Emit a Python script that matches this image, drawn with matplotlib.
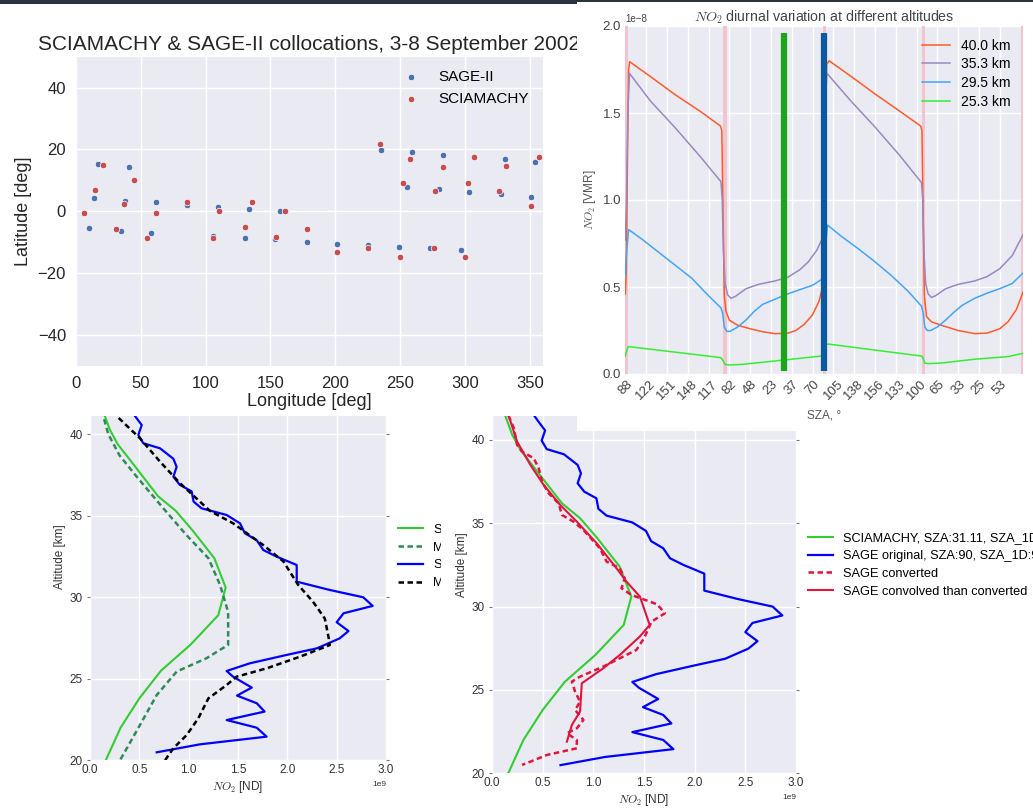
import matplotlib
matplotlib.use('Agg')
import matplotlib.pyplot as plt
from matplotlib.patches import Rectangle

W, H = 1033, 808
plt.rcParams['font.family'] = ['Liberation Sans', 'DejaVu Sans']
plt.rcParams['mathtext.fontset'] = 'cm'
plt.rcParams['axes.unicode_minus'] = True

# ---------------- data: collocations map ----------------
sage_lon = [10.5, 13.9, 17.1, 35.0, 38.1, 41.3, 58.3, 61.5, 85.9, 105.9, 109.3, 130.1, 133.5, 153.7, 157.1, 177.9,
            201.2, 225.4, 235.3, 248.7, 255.3, 258.7, 272.6, 279.5, 282.9, 296.5, 303.1, 306.5, 327.3, 330.7, 350.6, 354.0]
sage_lat = [-5.5, 4.2, 15.3, -6.2, 3.5, 14.3, -6.9, 2.9, 1.9, -8.1, 1.3, -8.5, 0.6, -9.1, 0.0, -9.8,
            -10.4, -10.8, 19.9, -11.4, 7.8, 19.2, -12.0, 7.2, 18.3, -12.4, 6.2, 17.6, 5.5, 16.9, 4.8, 15.9]
scia_lon = [6.5, 14.8, 21.3, 31.0, 37.3, 44.7, 55.2, 61.5, 85.9, 105.9, 110.1, 130.1, 135.7, 154.5, 161.1, 177.9,
            201.2, 225.4, 234.5, 249.6, 252.1, 257.8, 276.0, 276.6, 282.9, 299.9, 302.5, 306.5, 326.4, 331.5, 350.6, 357.1]
scia_lat = [-0.6, 6.8, 14.9, -5.6, 2.3, 10.1, -8.5, -0.6, 2.9, -8.5, 0.0, -5.2, 2.9, -8.2, 0.0, -5.8,
            -13.0, -12.0, 21.8, -14.6, 9.1, 16.9, -12.0, 6.5, 14.3, -14.6, 9.1, 17.6, 6.5, 14.6, 1.6, 17.6]

# ---------------- data: diurnal variation (time in hours, NO2 in 1e-8 VMR) ----------------
t_40 = [0, 0.12, 0.25, 0.4, 0.52, 3, 6, 9, 11.44, 11.6, 11.75, 11.9, 12.1, 12.5, 13.5, 15, 16.5, 18, 19.5, 20.5,
        21.5, 22.5, 23.3, 23.7, 23.9, 24.05, 24.2, 24.5, 27, 30, 33, 35.5, 35.65, 35.8, 35.95, 36.2, 36.8, 38, 40,
        42, 43.5, 45, 46, 47, 47.8]
v_40 = [0.46, 0.6, 1.2, 1.75, 1.795, 1.71, 1.605, 1.51, 1.425, 1.40, 0.9, 0.45, 0.36, 0.31, 0.28, 0.26, 0.243, 0.232,
        0.234, 0.25, 0.285, 0.34, 0.42, 0.50, 0.8, 1.4, 1.78, 1.80, 1.715, 1.61, 1.51, 1.425, 1.40, 0.9, 0.45, 0.33,
        0.30, 0.28, 0.25, 0.232, 0.235, 0.26, 0.30, 0.37, 0.47]
t_35 = [0, 0.15, 0.3, 0.5, 3, 6, 9, 11.5, 11.65, 11.8, 12.0, 12.3, 12.7, 13.2, 14.5, 16, 18, 19.5, 21, 22, 23,
        23.6, 23.85, 24.0, 24.2, 27, 30, 33, 35.6, 35.75, 35.9, 36.1, 36.4, 36.8, 37.3, 38.5, 40, 42, 43.5, 45,
        46.5, 47.8]
v_35 = [0.77, 1.0, 1.5, 1.728, 1.57, 1.415, 1.25, 1.105, 1.0, 0.7, 0.52, 0.455, 0.435, 0.445, 0.49, 0.515, 0.535,
        0.555, 0.60, 0.645, 0.71, 0.77, 0.9, 1.4, 1.73, 1.575, 1.42, 1.255, 1.10, 1.0, 0.7, 0.52, 0.46, 0.44, 0.45,
        0.49, 0.515, 0.535, 0.56, 0.605, 0.68, 0.80]
t_29 = [0, 0.15, 0.4, 2, 4, 6, 8, 10, 11.5, 11.7, 11.9, 12.2, 12.6, 13.5, 14.5, 15.5, 16.5, 18, 19.5, 21, 22.5,
        23.5, 23.8, 24.0, 24.3, 26, 28, 30, 32, 34, 35.6, 35.8, 36.0, 36.3, 36.7, 37.5, 38.5, 39.5, 40.5, 42, 43.5,
        45, 46.5, 47.8]
v_29 = [0.56, 0.7, 0.83, 0.775, 0.70, 0.625, 0.55, 0.45, 0.38, 0.35, 0.27, 0.245, 0.245, 0.27, 0.31, 0.36, 0.40,
        0.43, 0.46, 0.485, 0.51, 0.54, 0.56, 0.7, 0.856, 0.79, 0.72, 0.645, 0.565, 0.475, 0.39, 0.35, 0.27, 0.25,
        0.25, 0.27, 0.31, 0.355, 0.395, 0.435, 0.465, 0.49, 0.52, 0.58]
t_25 = [0, 0.3, 0.5, 11.5, 11.7, 12.0, 12.5, 14, 17, 20, 23.5, 23.8, 24.1, 24.4, 35.6, 35.8, 36.0, 36.5, 38, 42,
        46, 47.8]
v_25 = [0.103, 0.155, 0.157, 0.094, 0.08, 0.055, 0.052, 0.055, 0.07, 0.085, 0.103, 0.105, 0.17, 0.172, 0.103, 0.09,
        0.062, 0.06, 0.063, 0.085, 0.10, 0.119]
sunrise_sunset = [0.05, 11.95, 23.95, 35.85, 47.75]
sza_ticks = [0, 2.5, 5, 7.5, 10, 12.5, 15, 17.5, 20, 22.5, 25, 27.5, 30, 32.5, 35, 37.5, 40, 42.5, 45]
sza_labels = ['88', '122', '151', '148', '117', '82', '48', '23', '37', '70', '105', '138', '156', '133', '100',
              '65', '33', '25', '53']
scia_time = 19.12
sage_time = 23.92

# ---------------- data: profiles (NO2 in 1e9 ND, altitude in km) ----------------
scia_alt = [42.0, 41.4, 40.3, 39.4, 38.0, 36.2, 35.3, 34.1, 32.4, 30.6, 28.9, 27.1, 25.5, 23.8, 22.0, 20.0]
scia_nd = [0.10, 0.134, 0.20, 0.28, 0.46, 0.69, 0.87, 1.04, 1.26, 1.375, 1.30, 1.02, 0.72, 0.50, 0.31, 0.16]
scia_mod_alt = [42.0, 41.1, 40.0, 38.7, 37.4, 35.46, 33.8, 32.4, 30.76, 29.1, 27.08, 26.26, 25.44, 24.0, 22.17, 20.0]
scia_mod_nd = [0.10, 0.135, 0.186, 0.30, 0.473, 0.743, 0.98, 1.2, 1.318, 1.40, 1.40, 1.18, 0.878, 0.676, 0.507, 0.304]
sage_alt = [41.6, 41.12, 40.57, 39.96, 39.45, 39.14, 38.5, 38.0, 37.4, 36.9, 36.5, 35.87, 35.46, 35.05, 34.54,
            33.93, 33.5, 32.9, 32.5, 31.98, 30.96, 30.45, 30.0, 29.47, 29.02, 28.47, 27.93, 27.48, 26.87, 26.46,
            25.95, 25.48, 25.13, 24.46, 23.97, 23.5, 22.99, 22.47, 22.0, 21.45, 20.98, 20.49]
sage_nd = [0.40, 0.456, 0.524, 0.49, 0.54, 0.71, 0.845, 0.878, 0.845, 0.91, 1.03, 1.05, 1.13, 1.385, 1.52, 1.57,
           1.69, 1.757, 1.89, 2.095, 2.095, 2.43, 2.77, 2.865, 2.57, 2.5, 2.62, 2.53, 2.30, 1.99, 1.62, 1.385, 1.45,
           1.64, 1.49, 1.69, 1.77, 1.385, 1.69, 1.79, 1.115, 0.676]
sage_mod_alt = [42.0, 41.12, 39.75, 38.32, 37.0, 35.3, 34.54, 33.2, 32.2, 30.76, 29.73, 28.7, 27.48, 27.07, 26.36,
                25.64, 25.13, 24.62, 23.8, 22.58, 21.55, 20.74, 20.0]
sage_mod_nd = [0.22, 0.27, 0.507, 0.71, 0.912, 1.216, 1.45, 1.757, 1.96, 2.11, 2.26, 2.38, 2.42, 2.43, 2.13, 1.79,
               1.486, 1.385, 1.2, 1.098, 0.98, 0.845, 0.76]
conv_alt = [42.0, 41.4, 39.9, 38.5, 37.3, 36.1, 35.1, 33.8, 32.3, 31.5, 30.6, 28.9, 28.2, 27.1, 26.3, 25.4, 23.7,
            22.9, 21.9]
conv_nd = [0.14, 0.167, 0.248, 0.379, 0.51, 0.673, 0.837, 1.033, 1.229, 1.327, 1.46, 1.556, 1.458, 1.261, 1.098,
           0.886, 0.869, 0.788, 0.739]
cvt_alt = [42.0, 41.4, 40.7, 39.7, 39.3, 38.9, 38.3, 37.5, 36.8, 36.2, 35.5, 35.1, 34.6, 33.5, 32.7, 32.3, 31.7,
           31.1, 30.7, 30.14, 29.6, 29.1, 28.1, 27.4, 26.9, 26.4, 25.8, 25.5, 24.9, 24.3, 23.8, 23.2, 22.7, 22.4,
           22.0, 21.5, 21.1, 20.5]
cvt_nd = [0.15, 0.167, 0.216, 0.248, 0.297, 0.412, 0.461, 0.493, 0.559, 0.657, 0.69, 0.804, 0.902, 1.065, 1.131,
          1.261, 1.31, 1.278, 1.376, 1.63, 1.706, 1.575, 1.5, 1.425, 1.261, 1.098, 0.869, 0.788, 0.82, 0.869, 0.82,
          0.902, 0.837, 0.739, 0.837, 0.837, 0.542, 0.297]


def box(x0, y0, x1, y1):
    return [x0 / W, 1 - y1 / H, (x1 - x0) / W, (y1 - y0) / H]


def cover(fig, x0, y0, x1, y1, z, color='white'):
    fig.add_artist(Rectangle((x0 / W, 1 - y1 / H), (x1 - x0) / W, (y1 - y0) / H,
                             transform=fig.transFigure, facecolor=color, edgecolor='none', zorder=z))


def style(ax):
    ax.set_facecolor('#EAEAF2')
    for s in ax.spines.values():
        s.set_visible(False)
    ax.grid(True, color='white', linewidth=1.0)
    ax.set_axisbelow(True)


def nd(vals):
    return [v * 1e9 for v in vals]


fig = plt.figure(figsize=(W / 100, H / 100), dpi=100)
fig.patch.set_facecolor('white')

DASH = (0, (2.2, 1.4))


def profile_axes(ax):
    style(ax)
    ax.set_xlim(0, 3e9)
    ax.set_ylim(20, 45)
    ax.set_yticks([20, 25, 30, 35, 40, 45])
    ax.tick_params(axis='both', labelsize=8.5, colors='#333333', pad=3)
    ax.tick_params(axis='x', length=0)
    ax.tick_params(axis='y', length=2, width=0.8, color='#777777', right=True)
    ax.xaxis.get_offset_text().set_fontsize(6)
    ax.set_xlabel('$NO_2$ [ND]', fontsize=8.5, color='#333333', labelpad=2)
    ax.set_ylabel('Altitude [km]', fontsize=8.5, color='#333333', labelpad=3)


# ---------------- bottom-left profiles ----------------
ax3 = fig.add_axes(box(90, 352.8, 386, 760.3))
ax3.set_zorder(1)
profile_axes(ax3)
ax3.plot(nd(scia_nd), scia_alt, color='#33cc33', lw=1.5, label='SCIAMACHY')
ax3.plot(nd(scia_mod_nd), scia_mod_alt, color='#2e8b57', lw=1.8, ls=DASH, label='Model SCIAMACHY')
ax3.plot(nd(sage_nd), sage_alt, color='#0000ff', lw=1.6, label='SAGE')
ax3.plot(nd(sage_mod_nd), sage_mod_alt, color='black', lw=1.8, ls=DASH, label='Model SAGE')
ax3.legend(loc='center left', bbox_to_anchor=(1.0, 0.5), fontsize=9.2, frameon=False, labelspacing=0.45)

# cover for bottom-right screenshot
cover(fig, 441, 416, 1033, 808, 2)

# ---------------- bottom-right profiles ----------------
ax4 = fig.add_axes(box(492, 356.6, 796, 773.3))
ax4.set_zorder(3)
profile_axes(ax4)
ax4.plot(nd(scia_nd), scia_alt, color='#33cc33', lw=1.5, label='SCIAMACHY, SZA:31.11, SZA_1D:31.11')
ax4.plot(nd(sage_nd), sage_alt, color='#0000ff', lw=1.6, label='SAGE original, SZA:90, SZA_1D:90')
ax4.plot(nd(cvt_nd), cvt_alt, color='#e0143c', lw=1.8, ls=DASH, label='SAGE converted')
ax4.plot(nd(conv_nd), conv_alt, color='#e0143c', lw=1.5, label='SAGE convolved than converted')
ax4.legend(loc='center left', bbox_to_anchor=(1.0, 0.5), fontsize=9.2, frameon=False, labelspacing=0.45)

# ---------------- top-left collocation map ----------------
cover(fig, 0, 0, 577, 416, 4)
ax1 = fig.add_axes(box(75.8, 56.7, 543, 366))
ax1.set_zorder(5)
style(ax1)
ax1.scatter(sage_lon, sage_lat, s=22, color='#4c72b0', edgecolor='white', linewidth=0.5, label='SAGE-II', zorder=3)
ax1.scatter(scia_lon, scia_lat, s=22, color='#c44e52', edgecolor='white', linewidth=0.5, label='SCIAMACHY', zorder=3)
ax1.set_xlim(0, 360)
ax1.set_ylim(-50, 50)
ax1.set_xticks([0, 50, 100, 150, 200, 250, 300, 350])
ax1.set_yticks([-40, -20, 0, 20, 40])
ax1.tick_params(length=0, labelsize=12, colors='#262626', pad=7)
ax1.set_xlabel('Longitude [deg]', fontsize=13, color='#262626', labelpad=2)
ax1.set_ylabel('Latitude [deg]', fontsize=13, color='#262626', labelpad=4)
ax1.set_title('SCIAMACHY & SAGE-II collocations, 3-8 September 2002', fontsize=15, color='#262626', pad=5)
ax1.legend(loc='upper right', fontsize=11, frameon=False, scatterpoints=1)

# ---------------- top-right diurnal variation ----------------
cover(fig, 577, 0, 1033, 431, 6)
ax2 = fig.add_axes(box(625.3, 26, 1023, 374))
ax2.set_zorder(7)
style(ax2)
for c in sunrise_sunset:
    ax2.axvspan(c - 0.22, c + 0.22, color='#f4c4cc', lw=0, zorder=1)
ax2.plot(t_40, [v * 1e-8 for v in v_40], color='#ff5a2a', lw=1.1, label='40.0 km', zorder=2)
ax2.plot(t_35, [v * 1e-8 for v in v_35], color='#9a88c2', lw=1.1, label='35.3 km', zorder=2)
ax2.plot(t_29, [v * 1e-8 for v in v_29], color='#42a5f5', lw=1.1, label='29.5 km', zorder=2)
ax2.plot(t_25, [v * 1e-8 for v in v_25], color='#33ee33', lw=1.1, label='25.3 km', zorder=2)
ax2.vlines([scia_time], 0.02e-8, 1.96e-8, color='#1aa51a', lw=4.5, zorder=3)
ax2.vlines([sage_time], 0.02e-8, 1.96e-8, color='#0a5aa0', lw=4.5, zorder=3)
ax2.set_xlim(0, 47.8)
ax2.set_ylim(0, 2e-8)
ax2.set_yticks([0, 0.5e-8, 1e-8, 1.5e-8, 2e-8])
ax2.set_xticks(sza_ticks)
ax2.set_xticklabels(sza_labels, rotation=45)
ax2.tick_params(length=0, labelsize=9.5, colors='#444444', pad=3)
ax2.yaxis.get_offset_text().set_fontsize(7)
ax2.yaxis.get_offset_text().set_color('#444444')
ax2.set_xlabel('SZA, °', fontsize=8.5, color='#555555', labelpad=5)
ax2.set_ylabel('$NO_2$ [VMR]', fontsize=8.5, color='#555555', labelpad=3)
ax2.set_title('$NO_2$ diurnal variation at different altitudes', fontsize=10.2, color='#444444', pad=3)
ax2.legend(loc='upper right', fontsize=10, frameon=False, labelspacing=0.34)

# dark top bar
cover(fig, 0, 0, 577, 3.5, 10, color='#2b3240')
cover(fig, 577, 0, 1033, 2, 10, color='#2b3240')

fig.savefig('out.png', dpi=100)
